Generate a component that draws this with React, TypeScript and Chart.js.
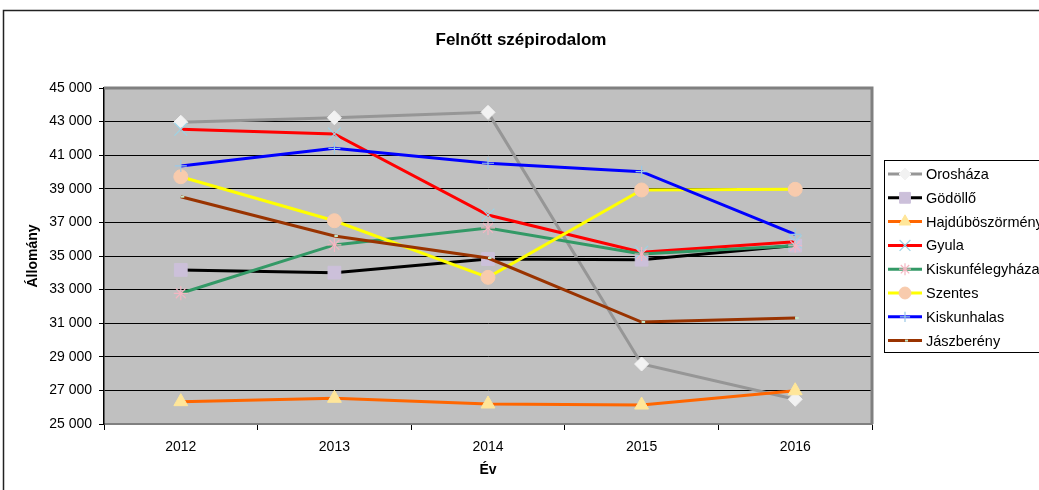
import React, { useEffect, useRef } from "react";
import { Chart, registerables } from "chart.js";
import { drawPoint } from "chart.js/helpers";

Chart.register(...registerables);

const years = ["2012", "2013", "2014", "2015", "2016"];
const oroshaza = [42960, 43230, 43550, 28570, 26470];
const godollo = [34170, 34010, 34820, 34780, 35620];
const hajduboszormeny = [26330, 26530, 26190, 26130, 26980];
const gyula = [42540, 42260, 37440, 35220, 35850];
const kiskunfelegyhaza = [32780, 35660, 36670, 35120, 35610];
const szentes = [39720, 37100, 33730, 38930, 38970];
const kiskunhalas = [40360, 41410, 40520, 40020, 36290];
const jaszbereny = [38530, 36190, 34880, 31070, 31310];

const seriesNames = [
  "Orosháza",
  "Gödöllő",
  "Hajdúböszörmény",
  "Gyula",
  "Kiskunfélegyháza",
  "Szentes",
  "Kiskunhalas",
  "Jászberény",
];
const seriesValues = [
  oroshaza,
  godollo,
  hajduboszormeny,
  gyula,
  kiskunfelegyhaza,
  szentes,
  kiskunhalas,
  jaszbereny,
];
const lineColors = ["#969696", "#000000", "#FF6600", "#FF0000", "#339966", "#FFFF00", "#0000FF", "#993300"];
const markerColors = ["#F2F2F2", "#CCC0DA", "#FFE699", "#9BD3E6", "#F4B6C2", "#F8CBAD", "#9BC8E6", "#C4E8C8"];
const markerStyles = ["rectRot", "rect", "triangle", "crossRot", "star", "circle", "cross", "dash"];
const markerRadius = [7, 9, 8, 9, 7, 7, 6, 3.5];
const markerBorder = [1, 1, 1, 1.2, 1.2, 1, 1.2, 2];

const FONT = "'Liberation Sans', Arial, sans-serif";

const fmt = (v: number) => String(v).replace(/\B(?=(\d{3})+(?!\d))/g, " ");

export default function App() {
  const ref = useRef<HTMLCanvasElement | null>(null);

  useEffect(() => {
    document.body.style.margin = "0";
    document.body.style.overflow = "hidden";
    const canvas = ref.current!;
    const decor = {
      id: "decor",
      beforeDraw(chart: any) {
        const { ctx, chartArea } = chart;
        ctx.save();
        ctx.fillStyle = "#FFFFFF";
        ctx.fillRect(0, 0, chart.width, chart.height);
        ctx.fillStyle = "#C0C0C0";
        ctx.fillRect(chartArea.left, chartArea.top, chartArea.right - chartArea.left, chartArea.bottom - chartArea.top);
        ctx.strokeStyle = "#222";
        ctx.lineWidth = 1.5;
        ctx.strokeRect(3.5, 10.5, 1200, 600);
        ctx.restore();
      },
      beforeDatasetsDraw(chart: any) {
        const { ctx, chartArea } = chart;
        ctx.save();
        ctx.strokeStyle = "#808080";
        ctx.lineWidth = 3;
        ctx.beginPath();
        ctx.moveTo(chartArea.left, chartArea.top);
        ctx.lineTo(chartArea.right, chartArea.top);
        ctx.lineTo(chartArea.right, chartArea.bottom);
        ctx.stroke();
        ctx.restore();
      },
      afterDraw(chart: any) {
        const { ctx, chartArea } = chart;
        ctx.save();
        ctx.fillStyle = "#000";
        ctx.textAlign = "center";
        ctx.textBaseline = "middle";
        ctx.font = `bold 17px ${FONT}`;
        ctx.fillText("Felnőtt szépirodalom", 521, 40);
        ctx.font = `bold 14px ${FONT}`;
        ctx.fillText("Év", (chartArea.left + chartArea.right) / 2, 470);
        ctx.save();
        ctx.translate(33, (chartArea.top + chartArea.bottom) / 2);
        ctx.rotate(-Math.PI / 2);
        ctx.fillText("Állomány", 0, 0);
        ctx.restore();

        const bx = 884.5, by = 160.5;
        ctx.fillStyle = "#FFFFFF";
        ctx.fillRect(bx, by, 300, 192);
        ctx.strokeStyle = "#000";
        ctx.lineWidth = 1;
        ctx.strokeRect(bx, by, 300, 192);
        ctx.font = `14.5px ${FONT}`;
        ctx.textAlign = "left";
        seriesNames.forEach((name, i) => {
          const y = 174 + i * 23.8;
          ctx.strokeStyle = lineColors[i];
          ctx.lineWidth = 3;
          ctx.beginPath();
          ctx.moveTo(888, y);
          ctx.lineTo(922, y);
          ctx.stroke();
          ctx.fillStyle = markerColors[i];
          ctx.strokeStyle = markerColors[i];
          ctx.lineWidth = markerBorder[i];
          drawPoint(ctx, { pointStyle: markerStyles[i], radius: markerRadius[i] * 0.85, rotation: 0, borderWidth: markerBorder[i] } as any, 905, y);
          ctx.fillStyle = "#000";
          ctx.fillText(name, 926, y + 1);
        });
        ctx.restore();
      },
    };

    const chart = new Chart(canvas, {
      type: "line",
      data: {
        labels: years,
        datasets: seriesNames.map((name, i) => ({
          label: name,
          data: seriesValues[i],
          borderColor: lineColors[i],
          borderWidth: 3,
          tension: 0,
          pointStyle: markerStyles[i] as any,
          pointRadius: markerRadius[i],
          pointBackgroundColor: markerColors[i],
          pointBorderColor: markerColors[i],
          pointBorderWidth: markerBorder[i],
          order: seriesNames.length - i,
        })),
      },
      options: {
        responsive: false,
        animation: false,
        layout: { padding: { top: 88, right: 167, left: 0, bottom: 0 } },
        plugins: {
          legend: { display: false },
          title: { display: false },
          tooltip: { enabled: false },
        },
        scales: {
          x: {
            type: "category",
            offset: true,
            grid: { offset: true, drawOnChartArea: false, color: "#000", tickLength: 6 },
            border: { color: "#808080", width: 2 },
            ticks: { color: "#000", font: { family: FONT, size: 14 }, padding: 9 },
            afterFit(scale: any) {
              scale.height = 66;
            },
          },
          y: {
            min: 25000,
            max: 45000,
            ticks: {
              stepSize: 2000,
              color: "#000",
              font: { family: FONT, size: 14 },
              padding: 7,
              callback: (v: any) => fmt(Number(v)),
            },
            grid: { color: "#000", lineWidth: 1, tickLength: 5 },
            border: { color: "#000", width: 1.5 },
            afterFit(scale: any) {
              scale.width = 104;
            },
          },
        },
      },
      plugins: [decor],
    });
    return () => chart.destroy();
  }, []);

  return (
    <div style={{ position: "fixed", left: 0, top: 0, width: 1039, height: 490 }}>
      <canvas ref={ref} width={1039} height={490} style={{ display: "block" }} />
    </div>
  );
}
